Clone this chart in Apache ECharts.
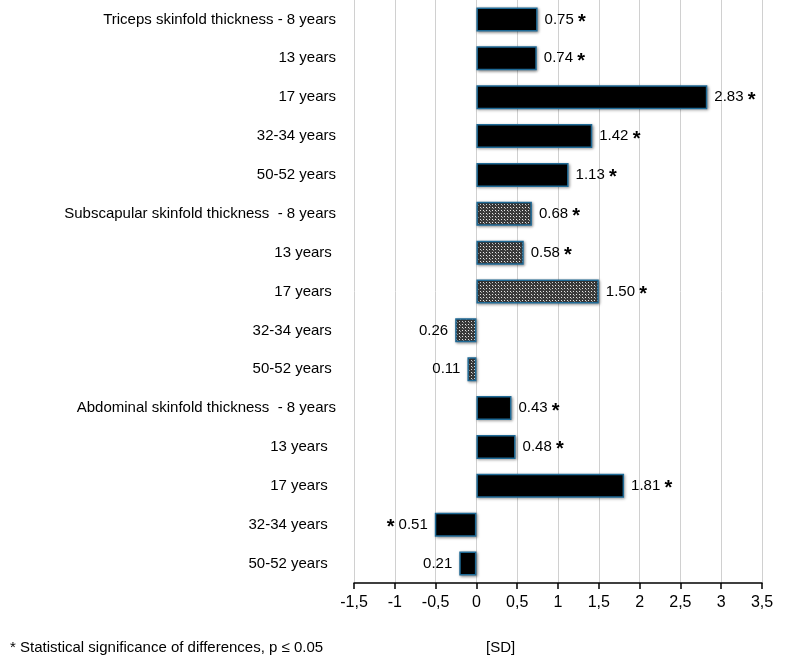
<!DOCTYPE html>
<html><head><meta charset="utf-8">
<script src="https://cdn.jsdelivr.net/npm/echarts@6/dist/echarts.min.js"></script>
<style>html,body{margin:0;padding:0;background:#fff}#c{width:785px;height:664px}</style>
</head><body><div id="c"></div>
<script>
const categories = ["Triceps skinfold thickness - 8 years","13 years","17 years","32-34 years","50-52 years",
  "Subscapular skinfold thickness  - 8 years","13 years ","17 years ","32-34 years ","50-52 years ",
  "Abdominal skinfold thickness  - 8 years","13 years  ","17 years  ","32-34 years  ","50-52 years  "];
const values = [0.75,0.74,2.83,1.42,1.13, 0.68,0.58,1.50,-0.26,-0.11, 0.43,0.48,1.81,-0.51,-0.21];
const significant = [1,1,1,1,1, 1,1,1,0,0, 1,1,1,1,0];
const patterned = [0,0,0,0,0, 1,1,1,1,1, 0,0,0,0,0];
const xTicks = [-1.5,-1,-0.5,0,0.5,1,1.5,2,2.5,3,3.5];

const pc = document.createElement('canvas'); pc.width=6; pc.height=6;
const g = pc.getContext('2d'); g.fillStyle='#3a3a3a'; g.fillRect(0,0,6,6);
g.fillStyle='#e8e8e8'; g.fillRect(0,0,1,1); g.fillRect(3,3,1,1); g.fillRect(3,0,1,1);g.fillRect(0,3,1,1);
g.fillStyle='#999'; g.fillRect(1,4,1,1); g.fillRect(4,1,1,1);

const data = values.map((v,i)=>({
  value:v,
  itemStyle:{color: patterned[i]? {image:pc, repeat:'repeat'} : '#000'},
  label:{position: v<0?'left':'right',
    formatter: v<0 ? (significant[i]?'{s|*} ':'')+Math.abs(v).toFixed(2)
                   : Math.abs(v).toFixed(2)+(significant[i]?' {s|*}':'')}
}));

const chart = echarts.init(document.getElementById('c'));
chart.setOption({
  animation:false,
  grid:{left:354,right:23,top:0,bottom:81},
  xAxis:{type:'value',min:-1.5,max:3.5,interval:0.5,
    axisLine:{show:true,lineStyle:{color:'#000',width:1.5}},
    axisTick:{show:true,inside:false,length:6,lineStyle:{color:'#000',width:1.5}},
    splitLine:{lineStyle:{color:'#d0d0d0'}},
    axisLabel:{color:'#000',fontSize:16,fontFamily:'Liberation Sans, Arial',margin:12,
      formatter:v=>String(xTicks.find(t=>Math.abs(t-v)<1e-9) ?? v).replace('.',',')}},
  yAxis:{type:'category',data:categories,inverse:true,
    axisLine:{show:false},axisTick:{show:false},
    axisLabel:{color:'#000',fontSize:15,fontFamily:'Liberation Sans, Arial',margin:18}},
  series:[{type:'bar',data:data,barWidth:24,
    itemStyle:{borderColor:'#1f6a96',borderWidth:1.5,shadowColor:'rgba(0,0,0,0.4)',shadowBlur:3,shadowOffsetX:1,shadowOffsetY:1},
    label:{show:true,color:'#000',fontSize:15,fontFamily:'Liberation Sans, Arial',distance:7,
      rich:{s:{fontSize:20,fontWeight:'bold',color:'#000',verticalAlign:'middle',padding:[6,0,0,0]}}}}],
  graphic:[
    {type:'text',left:10,top:640,style:{text:'* Statistical significance of differences, p \u2264 0.05',fill:'#000',font:'15px Liberation Sans, Arial',rich:{}}},
    {type:'text',left:486,top:640,style:{text:'[SD]',fill:'#000',font:'15px Liberation Sans, Arial'}}
  ]
});
</script></body></html>
